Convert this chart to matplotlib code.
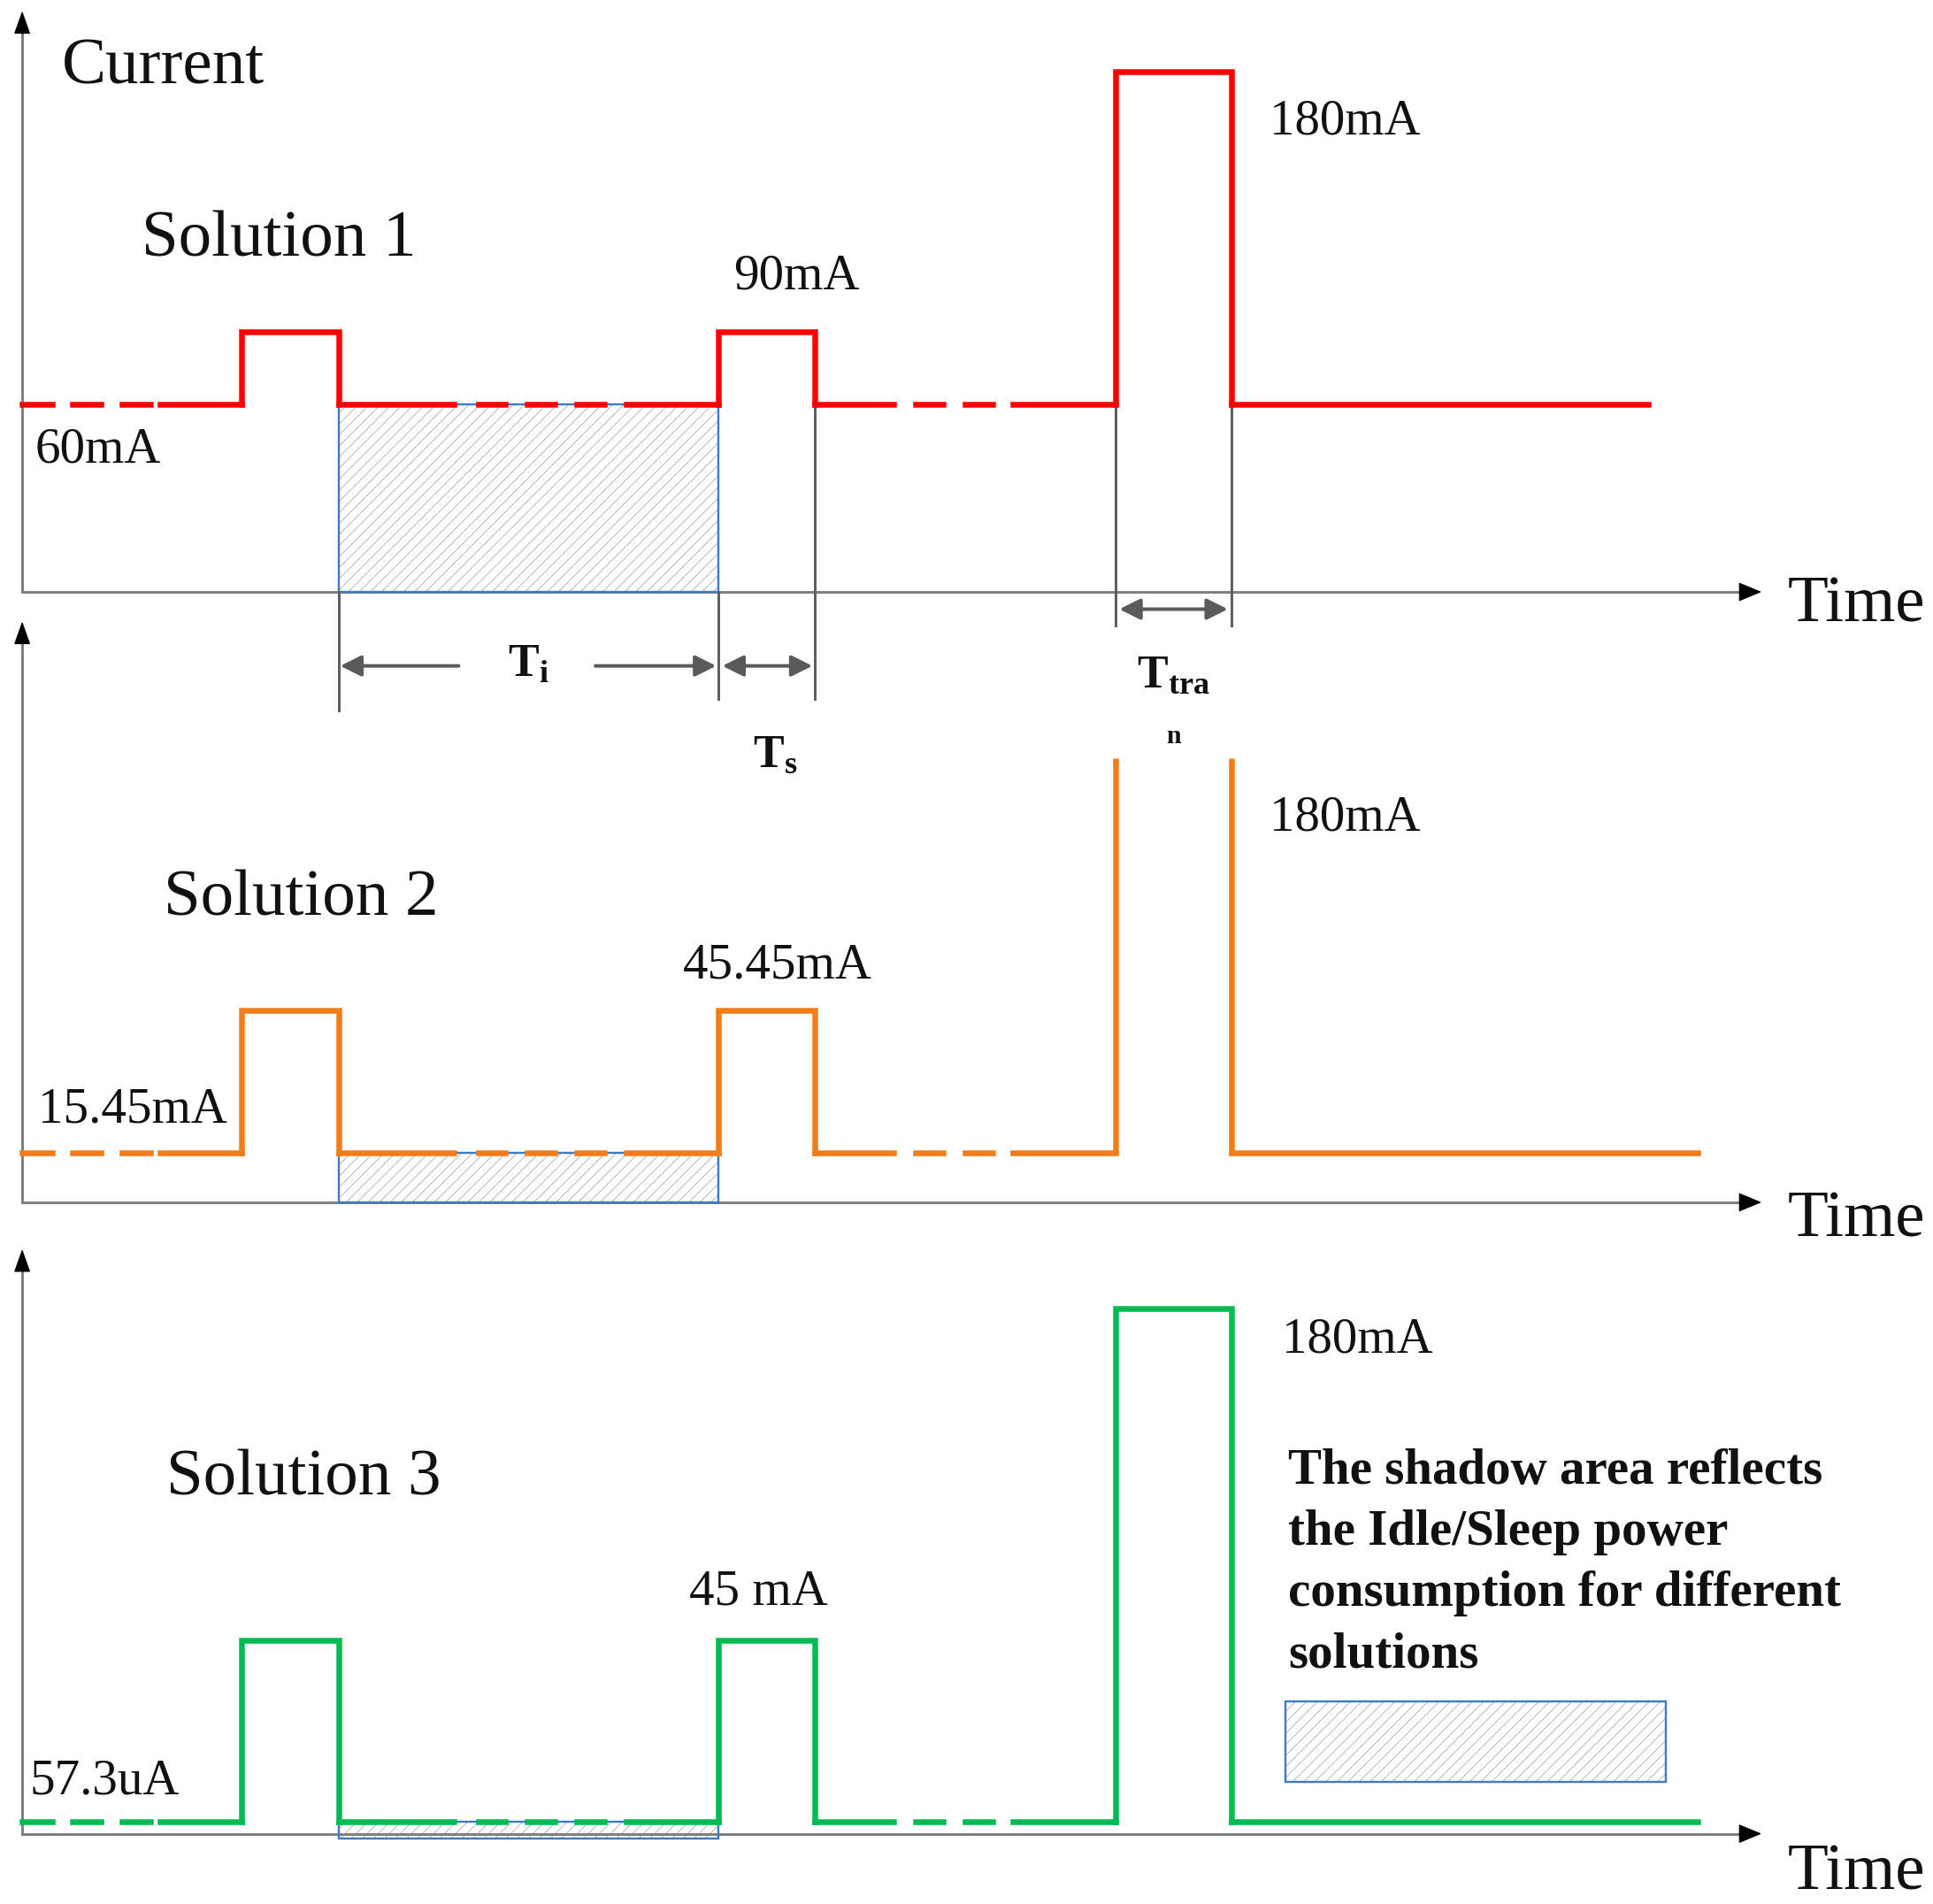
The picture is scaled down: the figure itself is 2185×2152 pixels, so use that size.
import matplotlib
matplotlib.use("Agg")
import matplotlib.pyplot as plt
from matplotlib.patches import Rectangle, Polygon

# sketch units: the picture is laid out on a 1568 x 1544 grid (y down)
DPI = 75
W, H = 2185, 2152
GX, GY = 1568, 1544

plt.rcParams["font.family"] = ["Liberation Serif", "DejaVu Serif"]
plt.rcParams["mathtext.fontset"] = "custom"
plt.rcParams["mathtext.rm"] = "Liberation Serif"
plt.rcParams["mathtext.bf"] = "Liberation Serif:bold"
plt.rcParams["hatch.linewidth"] = 0.9
plt.rcParams["hatch.color"] = "#b4b4b4"

# ---- data -------------------------------------------------------------
solutions = ["Solution 1", "Solution 2", "Solution 3"]
colors = ["#ff0000", "#f07d1a", "#00bb52"]
axis_y = [480, 975, 1487]          # time axis of each panel
axis_top = [10, 505, 1014]         # tip of the current axis
base_h = [152, 40, 10]             # idle / sleep level above the axis
pulse_h = [211, 156, 157]          # wake-up pulses
peak_h = [422, 360, 426]           # transmission pulse
peak_open = [False, True, False]   # solution 2 peak drawn without top
t_end = [1337, 1377, 1377]
base_labels = ["60mA", "15.45mA", "57.3uA"]
pulse_labels = ["90mA", "45.45mA", "45 mA"]
peak_labels = ["180mA", "180mA", "180mA"]

t_start = 18
wake1 = (196, 275)
wake2 = (583, 661)
trans = (905, 999)
idle = (275, 583)
# breaks in the dashed stretches of the idle line
gaps = [(42, 59), (82, 99), (122, 130), (368, 388), (410, 428), (450, 468),
        (490, 508), (725, 743), (765, 783), (805, 822)]

note_lines = ["The shadow area reflects", "the Idle/Sleep power",
              "consumption for different", "solutions"]

# ---- figure ---------------------------------------------------------------
fig = plt.figure(figsize=(W / DPI, H / DPI), dpi=DPI)
ax = fig.add_axes((0, 0, 1, 1))
ax.set_xlim(0, GX)
ax.set_ylim(GY, 0)
ax.axis("off")

AXIS_C = "#808080"
DIM_C = "#606060"
EDGE_C = "#3d7cc0"
LW = 6.5 * 72 / DPI


def pieces(x0, x1):
    out, cur = [], x0
    for g0, g1 in gaps:
        if g1 <= x0 or g0 >= x1:
            continue
        if g0 > cur:
            out.append((cur, g0))
        cur = max(cur, g1)
    if cur < x1:
        out.append((cur, x1))
    return out


def hatched(x0, y0, x1, y1):
    ax.add_patch(Rectangle((x0, y0), x1 - x0, y1 - y0, facecolor="white",
                           hatch="//", linewidth=0, zorder=1))
    ax.add_patch(Rectangle((x0, y0), x1 - x0, y1 - y0, fill=False,
                           edgecolor=EDGE_C, linewidth=2.4 * 72 / DPI, zorder=2))


def text(x, y, s, size, **kw):
    ax.text(x, y, s, fontsize=size * 72 / DPI, va="baseline", ha="left",
            color="#111111", **kw)


for i in range(3):
    ay, c = axis_y[i], colors[i]
    yb, yp, yk = ay - base_h[i], ay - pulse_h[i], ay - peak_h[i]

    # axes with arrow heads
    ax.plot([t_start, t_start], [ay, axis_top[i] + 10], color=AXIS_C,
            lw=3 * 72 / DPI, zorder=2)
    ax.add_patch(Polygon([(t_start, axis_top[i]), (t_start - 6, axis_top[i] + 17),
                          (t_start + 6, axis_top[i] + 17)], color="black", zorder=3))
    ax.plot([t_start, 1415], [ay, ay], color=AXIS_C, lw=3 * 72 / DPI, zorder=2)
    ax.add_patch(Polygon([(1428, ay), (1411, ay - 7), (1411, ay + 7)],
                         color="black", zorder=3))

    # shaded idle area
    drop = 4 if i == 2 else 0
    hatched(idle[0], yb, idle[1], ay + drop)

    # idle line, partly dashed
    for x0, x1 in pieces(t_start, wake1[0]) + pieces(wake1[1], wake2[0]) + \
            pieces(wake2[1], trans[0]) + [(trans[1], t_end[i])]:
        ax.plot([x0, x1], [yb, yb], color=c, lw=LW, solid_capstyle="projecting",
                zorder=4)
    for a, b in (wake1, wake2):
        ax.plot([a, a, b, b], [yb, yp, yp, yb], color=c, lw=LW,
                solid_joinstyle="miter", solid_capstyle="projecting", zorder=4)
    if peak_open[i]:
        for xx in trans:
            ax.plot([xx, xx], [yk, yb], color=c, lw=LW, solid_capstyle="butt",
                    zorder=4)
    else:
        ax.plot([trans[0], trans[0], trans[1], trans[1]], [yb, yk, yk, yb],
                color=c, lw=LW, solid_joinstyle="miter",
                solid_capstyle="projecting", zorder=4)

# labels
text(50, 68, "Current", 75)
for i, (sx, sy) in enumerate([(115, 208), (133, 742), (135, 1212)]):
    text(sx, sy, solutions[i], 75)
for i, ty in enumerate([504, 1003, 1532]):
    text(1450, ty, "Time", 75)
for i, (bx, by) in enumerate([(28, 375), (31, 910), (24, 1455)]):
    text(bx, by, base_labels[i], 57)
for i, (px_, py_) in enumerate([(595, 234), (554, 793), (559, 1301)]):
    text(px_, py_, pulse_labels[i], 57)
for i, (kx, ky) in enumerate([(1030, 109), (1030, 673), (1040, 1097)]):
    text(kx, ky, peak_labels[i], 57)

# dimension lines for T_i, T_s, T_tran
y1 = axis_y[0] - base_h[0]
for xx, ya, yb_ in [(idle[0], axis_y[0], 576), (idle[1], axis_y[0], 567),
                    (wake2[1], y1, 567), (trans[0], y1, 507), (trans[1], y1, 507)]:
    ax.plot([xx, xx], [ya, yb_], color=DIM_C, lw=3 * 72 / DPI, zorder=2)

arrow_kw = dict(arrowstyle="-|>,head_length=0.5,head_width=0.25",
                color="#5a5a5a", lw=4 * 72 / DPI, shrinkA=0, shrinkB=0,
                mutation_scale=40 * 72 / DPI)
both_kw = dict(arrow_kw, arrowstyle="<|-|>,head_length=0.5,head_width=0.25")
ax.annotate("", xy=(idle[0] + 1, 540), xytext=(372, 540), arrowprops=arrow_kw)
ax.annotate("", xy=(idle[1] - 2, 540), xytext=(483, 540), arrowprops=arrow_kw)
ax.annotate("", xy=(wake2[1] - 2, 540), xytext=(idle[1] + 3, 540),
            arrowprops=both_kw)
ax.annotate("", xy=(trans[1] - 3, 494), xytext=(trans[0] + 3, 494),
            arrowprops=both_kw)

text(412, 549, r"$\mathbf{T_i}$", 52)
text(611, 622, r"$\mathbf{T_s}$", 52)
text(922, 557, r"$\mathbf{T_{tra}}$", 52)
text(946, 603, "n", 30, fontweight="bold")

# note and legend swatch
for k, line in enumerate(note_lines):
    text(1045, 1203 + k * 49.7, line, 57, fontweight="bold")
hatched(1043, 1380, 1351, 1445)

fig.savefig("out.png", dpi=DPI)
